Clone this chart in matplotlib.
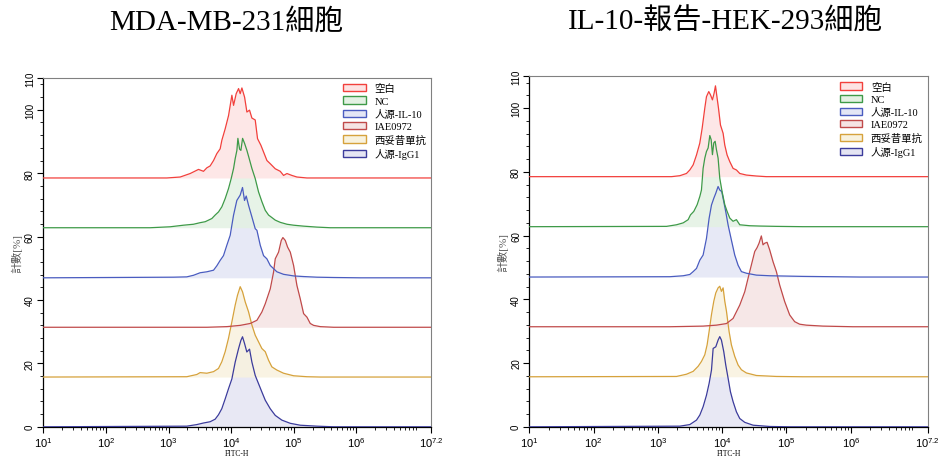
import numpy as np
import matplotlib
matplotlib.use("Agg")
import matplotlib.pyplot as plt
from matplotlib.patches import Patch
from matplotlib.ticker import FixedLocator, AutoMinorLocator, LogLocator, NullFormatter

plt.rcParams['font.family'] = ['Liberation Serif', 'Noto Sans CJK TC']
plt.rcParams['mathtext.fontset'] = 'custom'
plt.rcParams['mathtext.rm'] = 'Liberation Sans'
plt.rcParams['mathtext.it'] = 'Liberation Sans'

# ---- datos (log10 FITC-H, altura sobre su linea base) ----
titulos = ["MDA-MB-231細胞", "IL-10-報告-HEK-293細胞"]
nombres = ["空白", "NC", "人源-IL-10", "IAE0972", "西妥昔單抗", "人源-IgG1"]
bases = [78.5, 62.8, 47.0, 31.4, 15.7, 0.0]
colores = ["#f2403c", "#3e9a48", "#4a5cc0", "#c04a4a", "#d6a23c", "#3c3c9c"]
rellenos = ["#fde3e3", "#e3f1e3", "#e3e6f5", "#f5e3e3", "#f8f2de", "#e5e5f3"]

# panel izquierdo: MDA-MB-231
izq_rojo_x = [2.972, 3.186, 3.346, 3.479, 3.559, 3.612, 3.665, 3.719, 3.772, 3.825, 3.852, 3.905,
              3.959, 4.012, 4.039, 4.081, 4.119, 4.145, 4.172, 4.215, 4.252, 4.294, 4.332, 4.385,
              4.422, 4.476, 4.518, 4.572, 4.625, 4.705, 4.785, 4.838, 4.892, 4.971, 5.051, 5.211]
izq_rojo_y = [0, 0.3, 1.4, 2.7, 2.1, 3.2, 3.8, 5.5, 7.7, 9.2, 11.9, 15.5,
              19.7, 26.1, 22.9, 26.6, 28.2, 26.6, 28.4, 25.5, 20.8, 21.4, 18.9, 18.3,
              12.4, 10.3, 8.2, 5.5, 4.5, 2.9, 2.1, 0.8, 1.4, 0.8, 0.3, 0]
izq_verde_x = [2.706, 3.026, 3.239, 3.399, 3.506, 3.586, 3.639, 3.692, 3.745, 3.799, 3.852, 3.905,
               3.959, 4.001, 4.039, 4.065, 4.092, 4.108, 4.135, 4.156, 4.183, 4.215, 4.252, 4.289,
               4.332, 4.385, 4.438, 4.492, 4.545, 4.598, 4.652, 4.705, 4.785, 4.892, 4.998, 5.158,
               5.371, 5.584]
izq_verde_y = [0, 0.3, 0.8, 1.1, 1.6, 1.9, 2.4, 2.9, 4.0, 5.0, 6.6, 9.2,
               12.4, 15.5, 18.7, 21.8, 24.4, 28.2, 24.8, 24.4, 28.2, 26.6, 24.4, 21.8,
               18.7, 15.5, 11.3, 8.2, 5.5, 4.0, 3.2, 2.4, 1.7, 1.1, 0.8, 0.5,
               0.2, 0]
izq_azul_x = [3.079, 3.292, 3.399, 3.505, 3.612, 3.719, 3.772, 3.825, 3.878, 3.932, 3.985, 4.038,
              4.091, 4.145, 4.182, 4.214, 4.241, 4.278, 4.332, 4.385, 4.412, 4.465, 4.518, 4.571,
              4.625, 4.678, 4.731, 4.838, 4.998, 5.158, 5.371, 5.638, 6.064]
izq_azul_y = [0.2, 0.3, 0.8, 1.6, 1.9, 2.4, 3.8, 5.5, 7.0, 10.3, 13.4, 19.7,
              24.4, 26.1, 28.5, 24.4, 25.8, 22.9, 19.2, 15.5, 15.0, 10.3, 7.0, 6.0,
              3.9, 2.9, 1.9, 1.1, 0.6, 0.4, 0.2, 0.1, 0]
izq_iae_x = [3.612, 3.932, 4.145, 4.305, 4.412, 4.491, 4.545, 4.625, 4.678, 4.705, 4.758, 4.801,
             4.827, 4.865, 4.902, 4.945, 4.998, 5.051, 5.104, 5.158, 5.211, 5.264, 5.318, 5.424,
             5.638]
izq_iae_y = [0, 0.2, 0.6, 1.2, 2.2, 4.8, 7.4, 12.1, 17.4, 21.6, 23.7, 27.4,
             28.3, 27.4, 25.3, 23.7, 19.5, 13.2, 9.0, 4.3, 3.2, 1.2, 0.6, 0.2,
             0]
izq_naranja_x = [3.292, 3.452, 3.505, 3.612, 3.719, 3.798, 3.851, 3.905, 3.958, 4.012, 4.065, 4.102,
                 4.145, 4.182, 4.225, 4.278, 4.332, 4.385, 4.438, 4.491, 4.545, 4.598, 4.651, 4.731,
                 4.838, 4.998, 5.211, 5.424]
izq_naranja_y = [0.1, 0.8, 1.4, 1.2, 1.7, 2.7, 4.8, 8.0, 12.2, 17.4, 22.7, 25.8,
                 28.5, 26.9, 23.7, 20.6, 16.4, 13.2, 11.1, 9.0, 8.0, 5.3, 3.2, 2.2,
                 1.2, 0.4, 0.1, 0]
izq_igg_x = [3.292, 3.452, 3.559, 3.665, 3.745, 3.798, 3.851, 3.905, 3.958, 4.012, 4.065, 4.118,
             4.155, 4.182, 4.214, 4.251, 4.294, 4.332, 4.385, 4.438, 4.491, 4.545, 4.625, 4.705,
             4.811, 4.945, 5.104, 5.371, 5.638]
izq_igg_y = [0.2, 0.7, 1.2, 1.6, 2.4, 3.8, 5.7, 8.8, 12.0, 15.1, 20.4, 24.6,
             27.2, 28.4, 26.3, 23.6, 24.5, 20.4, 16.2, 13.6, 11.0, 8.4, 5.7, 3.6,
             2.1, 1.1, 0.5, 0.2, 0]

# panel derecho: IL-10 reportero HEK-293
der_rojo_x = [3.211, 3.341, 3.444, 3.496, 3.548, 3.600, 3.651, 3.688, 3.729, 3.755, 3.791, 3.817,
              3.848, 3.874, 3.895, 3.921, 3.942, 3.973, 4.014, 4.040, 4.076, 4.118, 4.169, 4.221,
              4.273, 4.376, 4.532, 4.687]
der_rojo_y = [0, 0.3, 1.0, 2.1, 3.7, 6.8, 10.5, 15.2, 21.5, 25.1, 26.7, 25.7,
              24.1, 26.2, 28.5, 24.6, 21.5, 16.2, 13.6, 9.9, 6.8, 4.7, 2.6, 2.1,
              1.0, 0.5, 0.2, 0]
der_verde_x = [3.134, 3.289, 3.393, 3.470, 3.506, 3.558, 3.610, 3.652, 3.677, 3.703, 3.729, 3.755,
               3.781, 3.807, 3.828, 3.848, 3.869, 3.890, 3.910, 3.936, 3.962, 3.998, 4.040, 4.076,
               4.118, 4.169, 4.221, 4.273, 4.428, 4.584, 4.843, 5.257]
der_verde_y = [0.1, 0.6, 1.2, 2.2, 3.7, 4.8, 6.9, 9.5, 11.5, 18.3, 21.5, 23.6,
               24.7, 28.6, 27.3, 22.6, 26.3, 26.8, 24.2, 21.5, 15.2, 11.0, 6.9, 4.8,
               2.7, 1.7, 2.2, 0.6, 0.3, 0.2, 0.1, 0]
der_azul_x = [3.185, 3.393, 3.496, 3.548, 3.600, 3.652, 3.703, 3.755, 3.796, 3.833, 3.869, 3.900,
              3.936, 3.962, 3.993, 4.024, 4.055, 4.092, 4.143, 4.195, 4.247, 4.299, 4.376, 4.532,
              4.739, 5.257, 6.137]
der_azul_y = [0.1, 0.4, 0.8, 1.7, 2.7, 5.3, 6.9, 12.1, 18.4, 22.6, 24.7, 26.3,
              28.4, 27.3, 26.8, 23.7, 20.5, 16.3, 11.6, 6.9, 3.7, 1.7, 1.2, 0.6,
              0.4, 0.2, 0]
der_iae_x = [3.185, 3.703, 3.910, 4.066, 4.169, 4.221, 4.273, 4.351, 4.402, 4.454, 4.506, 4.542,
             4.573, 4.609, 4.635, 4.661, 4.698, 4.739, 4.791, 4.843, 4.894, 4.972, 5.050, 5.127,
             5.205, 5.309, 5.568, 6.034]
der_iae_y = [0, 0.2, 0.5, 1.0, 2.6, 4.7, 6.8, 11.0, 15.2, 19.4, 23.6, 24.8,
             26.2, 28.5, 25.7, 26.2, 26.5, 24.1, 20.4, 17.3, 13.1, 7.9, 3.7, 1.6,
             0.8, 0.5, 0.2, 0]
der_naranja_x = [3.289, 3.444, 3.548, 3.626, 3.677, 3.729, 3.765, 3.796, 3.833, 3.869, 3.900, 3.936,
                 3.962, 3.988, 4.014, 4.040, 4.066, 4.107, 4.143, 4.195, 4.247, 4.299, 4.376, 4.532,
                 4.843, 5.257]
der_naranja_y = [0.1, 0.8, 1.7, 3.3, 4.8, 6.9, 10.0, 14.2, 19.5, 23.7, 26.3, 27.9,
                 28.4, 26.8, 27.9, 23.7, 20.6, 14.2, 10.0, 6.4, 3.7, 2.2, 1.2, 0.4,
                 0.1, 0]
der_igg_x = [3.341, 3.496, 3.600, 3.652, 3.703, 3.755, 3.796, 3.833, 3.859, 3.900, 3.936, 3.962,
             3.988, 4.024, 4.055, 4.092, 4.128, 4.169, 4.221, 4.273, 4.351, 4.481, 4.739, 5.050]
der_igg_y = [0.2, 0.7, 2.1, 3.7, 6.3, 9.9, 13.6, 17.8, 24.6, 25.1, 27.2, 28.3,
             27.2, 23.6, 19.4, 15.2, 11.0, 7.9, 4.7, 2.6, 1.4, 0.5, 0.1, 0]

paneles = [
    [(izq_rojo_x, izq_rojo_y), (izq_verde_x, izq_verde_y), (izq_azul_x, izq_azul_y),
     (izq_iae_x, izq_iae_y), (izq_naranja_x, izq_naranja_y), (izq_igg_x, izq_igg_y)],
    [(der_rojo_x, der_rojo_y), (der_verde_x, der_verde_y), (der_azul_x, der_azul_y),
     (der_iae_x, der_iae_y), (der_naranja_x, der_naranja_y), (der_igg_x, der_igg_y)],
]

x_min, x_max = 1.0, 7.2
fig = plt.figure(figsize=(9.42, 4.6), dpi=100)
posiciones = [[0.046, 0.070, 0.412, 0.758], [0.562, 0.070, 0.423, 0.762]]
centros_titulo = [0.240, 0.770]

for p, curvas in enumerate(paneles):
    ax = fig.add_axes(posiciones[p])
    # de abajo hacia arriba para que las de arriba queden detras
    for k in range(len(curvas) - 1, -1, -1):
        xs, hs = curvas[k]
        lx = np.concatenate([[x_min], xs, [x_max]])
        hy = np.concatenate([[0], hs, [0]])
        x = 10 ** lx
        y = bases[k] + hy
        ax.fill_between(x, bases[k], y, color=rellenos[k], alpha=0.85, lw=0, zorder=2)
        ax.plot(x, y, color=colores[k], lw=0.9, zorder=3)
    ax.set_xscale('log')
    ax.set_xlim(10 ** x_min, 10 ** x_max)
    ax.set_ylim(0, 110)
    ax.xaxis.set_major_locator(FixedLocator([10 ** e for e in [1, 2, 3, 4, 5, 6, 7.2]]))
    ax.set_xticklabels([r'$10^{1}$', r'$10^{2}$', r'$10^{3}$', r'$10^{4}$', r'$10^{5}$',
                        r'$10^{6}$', r'$10^{7.2}$'])
    ax.xaxis.set_minor_locator(LogLocator(base=10, subs=np.arange(2, 10), numticks=20))
    ax.xaxis.set_minor_formatter(NullFormatter())
    ax.set_yticks([0, 20, 40, 60, 80, 100, 110])
    ax.yaxis.set_minor_locator(AutoMinorLocator(5))
    ax.tick_params(axis='x', which='major', length=4, width=0.8, labelsize=8, pad=2)
    ax.tick_params(axis='x', which='minor', length=2, width=0.6)
    ax.tick_params(axis='y', which='major', length=4, width=0.8, labelsize=7, pad=2,
                   labelrotation=90)
    ax.tick_params(axis='y', which='minor', length=2, width=0.6)
    for lab in ax.get_yticklabels():
        lab.set_family(['Liberation Sans'])
        lab.set_verticalalignment('center')
    for lab in ax.get_xticklabels():
        lab.set_family(['Liberation Sans'])
    for s in ['top', 'right']:
        ax.spines[s].set_color('#808080')
        ax.spines[s].set_linewidth(0.8)
    for s in ['left', 'bottom']:
        ax.spines[s].set_linewidth(0.9)
    ax.set_xlabel('FITC-H', fontsize=5.5, labelpad=0)
    ax.set_ylabel('計數[%]', fontsize=8, color='#555555', labelpad=2)
    manijas = [Patch(facecolor=rellenos[k], edgecolor=colores[k], lw=1.0, label=nombres[k])
               for k in range(len(nombres))]
    ax.legend(handles=manijas, loc='upper right', frameon=False, fontsize=7.5,
              handlelength=2.2, handleheight=0.7, labelspacing=0.3, borderaxespad=0.1,
              handletextpad=0.8, bbox_to_anchor=(1.0, 1.0))
    fig.text(centros_titulo[p], 0.952, titulos[p], ha='center', va='center', fontsize=21)

fig.savefig('out.png', dpi=100)
